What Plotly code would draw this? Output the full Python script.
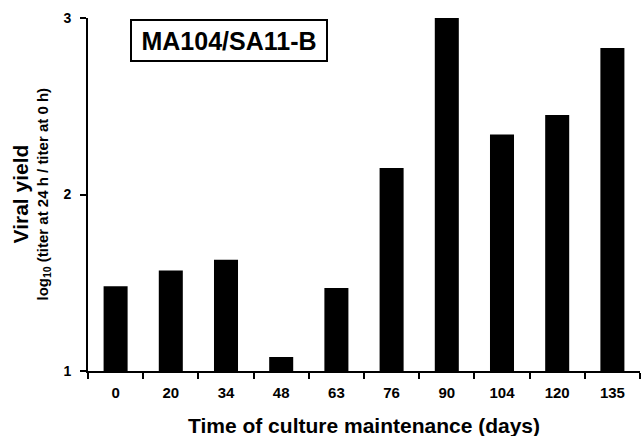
import plotly.graph_objects as go

days = ["0", "20", "34", "48", "63", "76", "90", "104", "120", "135"]
viral_yield = [1.48, 1.57, 1.63, 1.08, 1.47, 2.15, 3.00, 2.34, 2.45, 2.83]
y_ticks = [1, 2, 3]

FONT = "Liberation Sans, Arial, Helvetica, sans-serif"

fig = go.Figure()
fig.add_trace(go.Bar(x=days, y=viral_yield, marker=dict(color="black", line=dict(width=0)),
                     cliponaxis=False))

fig.update_layout(
    width=643, height=436,
    margin=dict(l=88, r=3, t=18, b=65),
    plot_bgcolor="white", paper_bgcolor="white",
    bargap=0.565,
    showlegend=False,
    font=dict(family=FONT, color="black"),
)
fig.update_xaxes(
    type="category", range=[-0.5, 9.5],
    showline=True, linecolor="black", linewidth=2,
    ticks="outside", tickson="boundaries", ticklen=6, tickwidth=2, tickcolor="black",
    tickfont=dict(family=FONT, size=15, weight="bold"),
    ticklabelstandoff=7,
    showgrid=False, zeroline=False,
)
fig.update_yaxes(
    range=[1, 3], tickvals=y_ticks, ticktext=[str(v) for v in y_ticks],
    showline=True, linecolor="black", linewidth=2,
    ticks="outside", ticklen=6, tickwidth=2, tickcolor="black",
    tickfont=dict(family=FONT, size=14, weight="bold"),
    ticklabelstandoff=6,
    showgrid=False, zeroline=False,
)

fig.add_annotation(
    text="MA104/SA11-B", xref="paper", yref="paper",
    x=(229 - 88) / 552, y=(371 - 40.5) / 353, xanchor="center", yanchor="middle",
    showarrow=False, font=dict(family=FONT, size=25, weight="bold"),
    bordercolor="black", borderwidth=2, borderpad=0, width=194, height=39, bgcolor="white",
)
fig.add_annotation(
    text="Viral yield", xref="paper", yref="paper",
    x=(20 - 88) / 552, y=0.5, xanchor="center", yanchor="middle", textangle=-90,
    showarrow=False, font=dict(family=FONT, size=21, weight="bold"),
)
fig.add_annotation(
    text="log<sub>10</sub> (titer at 24 h / titer at 0 h)", xref="paper", yref="paper",
    x=(43 - 88) / 552, y=0.5, xanchor="center", yanchor="middle", textangle=-90,
    showarrow=False, font=dict(family=FONT, size=15, weight="bold"),
)
fig.add_annotation(
    text="Time of culture maintenance (days)", xref="paper", yref="paper",
    x=0.5, y=(371 - 425) / 353, xanchor="center", yanchor="middle",
    showarrow=False, font=dict(family=FONT, size=21, weight="bold"),
)

fig.write_html("out.html", config={"displayModeBar": False},
               post_script="document.body.style.margin='0';document.body.style.overflow='hidden';")
